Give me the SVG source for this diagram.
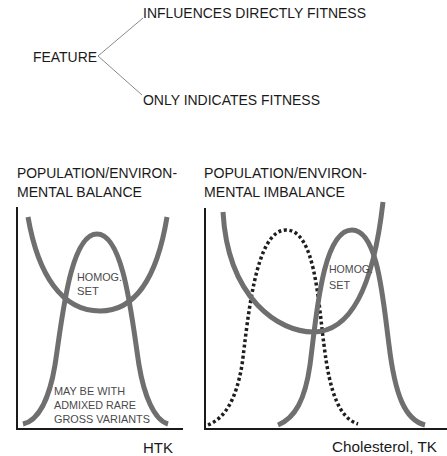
<svg xmlns="http://www.w3.org/2000/svg" width="447" height="456" viewBox="0 0 447 456">
<style>
text{font-family:"Liberation Sans",Arial,sans-serif;fill:#1a1a1a}
.big{font-size:15px}
.ttl{font-size:14px}
.in{font-size:11px;fill:#4a4a4a}
.sm{font-size:11px;fill:#4a4a4a}
.conn{stroke:#8a8a8a;stroke-width:1;fill:none}
.axis{stroke:#1a1a1a;stroke-width:2;fill:none}
.curve{stroke:#6f6f6f;stroke-width:5;fill:none;stroke-linecap:butt}
.dot{stroke:#1e1e1e;stroke-width:3.5;fill:none;stroke-dasharray:3 2.6}
</style>
<rect width="447" height="456" fill="#fff"/>
<g id="connectors">
<line class="conn" x1="98" y1="56" x2="143" y2="18"/>
<line class="conn" x1="98" y1="56" x2="142" y2="95"/>
</g>
<g id="feature"><text class="big" x="33" y="62" textLength="64" lengthAdjust="spacingAndGlyphs">FEATURE</text></g>
<g id="influences"><text class="big" x="143" y="18" textLength="223" lengthAdjust="spacingAndGlyphs">INFLUENCES DIRECTLY FITNESS</text></g>
<g id="indicates"><text class="big" x="143" y="105" textLength="177" lengthAdjust="spacingAndGlyphs">ONLY INDICATES FITNESS</text></g>

<g id="balance-panel">
<text class="ttl" x="17" y="178" textLength="160" lengthAdjust="spacingAndGlyphs">POPULATION/ENVIRON-</text>
<text class="ttl" x="17" y="197" textLength="125" lengthAdjust="spacingAndGlyphs">MENTAL BALANCE</text>
<path class="axis" d="M17,207 V429 H183"/>
<path class="curve" d="M23,424 C40,420 50,395 55,365 C62,320 70,234 97,234 C124,234 132,320 139,365 C144,395 154,420 168,424"/>
<path class="curve" d="M28,217 C38,275 62,311 100,311 C128,311 155,290 167,217"/>
<text class="in" x="77" y="281" textLength="45" lengthAdjust="spacingAndGlyphs">HOMOG.</text>
<text class="in" x="77" y="295" textLength="22" lengthAdjust="spacingAndGlyphs">SET</text>
<text class="sm" x="54" y="395" textLength="71" lengthAdjust="spacingAndGlyphs">MAY BE WITH</text>
<text class="sm" x="54" y="409" textLength="82" lengthAdjust="spacingAndGlyphs">ADMIXED RARE</text>
<text class="sm" x="54" y="423" textLength="96" lengthAdjust="spacingAndGlyphs">GROSS VARIANTS</text>
<text class="big" x="143" y="453" textLength="30" lengthAdjust="spacingAndGlyphs">HTK</text>
</g>

<g id="imbalance-panel">
<text class="ttl" x="204" y="178" textLength="163" lengthAdjust="spacingAndGlyphs">POPULATION/ENVIRON-</text>
<text class="ttl" x="204" y="197" textLength="141" lengthAdjust="spacingAndGlyphs">MENTAL IMBALANCE</text>
<path class="axis" d="M205,208 V429 H447"/>
<path class="dot" d="M208,425 C225,418 236,400 242,365 C248,320 255,230 286,230 C315,230 318,300 324,345 C330,395 340,418 358,424"/>
<path class="curve" d="M278,425 C295,418 305,400 310,365 C316,320 322,230 352,230 C378,230 383,300 389,345 C395,395 405,420 425,425"/>
<path class="curve" d="M223,212 C228,300 280,332 313,332 C345,332 372,300 383,202"/>
<text class="in" x="329" y="273" textLength="44" lengthAdjust="spacingAndGlyphs">HOMOG.</text>
<text class="in" x="329" y="289" textLength="21" lengthAdjust="spacingAndGlyphs">SET</text>
<text class="big" x="332" y="452" font-size="17" textLength="105" lengthAdjust="spacingAndGlyphs">Cholesterol, TK</text>
</g>
</svg>
